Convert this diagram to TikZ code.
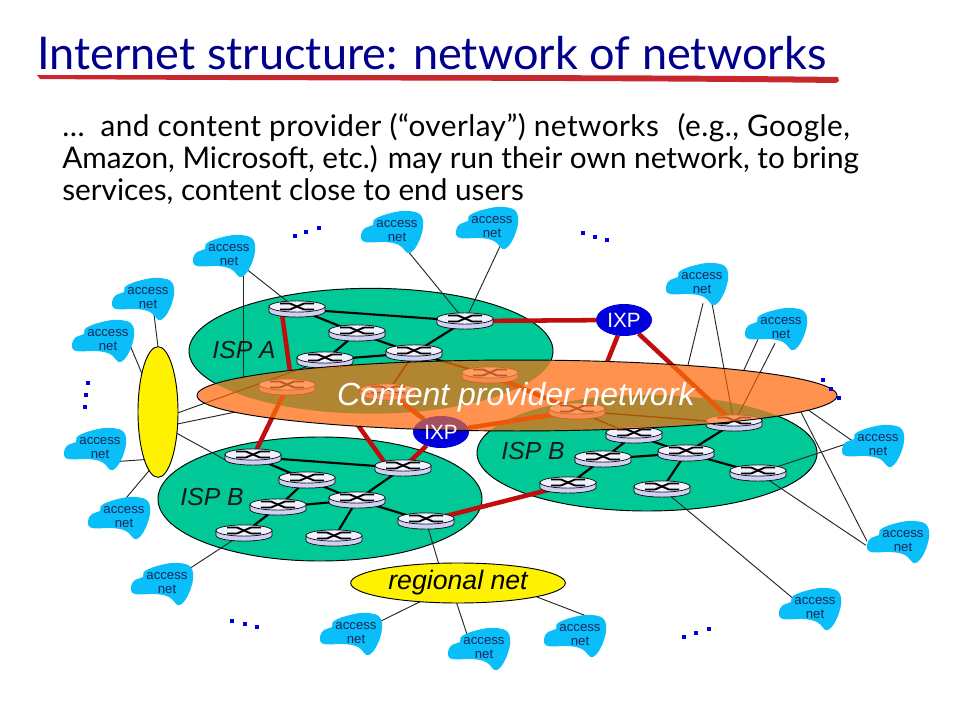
\documentclass[tikz,border=0pt]{standalone}
\usepackage{fontspec}
\setmainfont{Liberation Sans}
\newfontfamily\titlefont{Lato}
\usetikzlibrary{calc,shapes.geometric}
\definecolor{ispgreen}{RGB}{0,200,150}
\definecolor{ovorange}{RGB}{255,146,78}
\definecolor{ovbrown}{RGB}{176,134,50}
\definecolor{linkred}{RGB}{192,14,14}
\definecolor{cloudblue}{RGB}{10,190,250}
\definecolor{cloudtext}{RGB}{20,40,90}
\definecolor{titleblue}{RGB}{0,0,140}
\definecolor{ulred}{RGB}{200,40,45}
\definecolor{ixpblue}{RGB}{0,0,220}
\definecolor{ixpmix}{RGB}{165,80,95}
\definecolor{rtop}{RGB}{240,240,255}
\definecolor{rside}{RGB}{208,208,244}
\definecolor{rline}{RGB}{0,0,0}
\definecolor{rmark}{RGB}{0,0,0}
\pgfdeclarelayer{ell}
\pgfdeclarelayer{thin}
\pgfdeclarelayer{over}
\pgfdeclarelayer{toptext}
\pgfsetlayers{ell,thin,main,over,toptext}
\tikzset{
  x=0.75pt,y=-0.75pt,
  thinl/.style={draw=black!85,line width=0.7pt},
  linkl/.style={draw=black,line width=1.6pt},
  finel/.style={draw=black,line width=1pt},
  redl/.style={draw=linkred,line width=3.4pt},
  ispell/.style={ellipse,draw=black,line width=0.7pt,fill=ispgreen,inner sep=0pt,outer sep=0pt},
  yellowell/.style={ellipse,draw=black,line width=0.7pt,fill=yellow,inner sep=0pt,outer sep=0pt},
  ixpell/.style={ellipse,fill=ixpblue,inner sep=0pt,outer sep=0pt,minimum width=42pt,minimum height=24pt},
  rnode/.style={inner sep=0pt,outer sep=0pt,minimum size=0pt},
  cloudlabel/.style={text=cloudtext,align=center,inner sep=0pt,yshift=-1pt,font=\fontsize{9.9}{10.5}\selectfont},
  isplabel/.style={font=\fontsize{18.5}{20}\selectfont\itshape,inner sep=0pt,text=black!90},
  ixplabel/.style={font=\fontsize{15.5}{17}\selectfont,text=white,inner sep=0pt},
  dotm/.style={fill=ixpblue,draw=none}
}
\newcommand\rtr[1]{%
  \begin{scope}[shift={(#1)}]
    \filldraw[fill=rside,draw=rline,line width=0.5pt] (-28,-2.5) -- (-28,2.5) arc[start angle=180,end angle=360,x radius=21pt,y radius=4.2pt] -- (28,-2.5) -- cycle;
    \filldraw[fill=rtop,draw=rline,line width=0.5pt] (0,-2.5) ellipse[x radius=21pt,y radius=4.2pt];
    \draw[rmark,line width=1.4pt] (-17,-5.5) -- (-7,-5.5) -- (7,0.5) -- (17,0.5);
    \draw[rmark,line width=1.4pt] (-17,0.5) -- (-7,0.5) -- (7,-5.5) -- (17,-5.5);
  \end{scope}}
\newcommand\overlinks{%
  \draw[thinl] ($(yel.center)+(0,8)$) -- (R3);
  \draw[thinl] ($(a9)+(10,20)$) -- (H5);
  \draw[thinl] ($(a10)+(-6,15)$) -- (H5);
  \draw[linkl] (R4) -- (H2);
  \draw[linkl] (R4) -- (H3);
  \draw[finel] (H4) -- (G1);
  \draw[finel] (H4) -- (H5);
  \draw[redl] (H1) -- (B1);
  \draw[redl] (H2) -- (IXPa);
  \draw[redl] (IXPa) -- (H4);
  \draw[redl] (H3) -- (H4);
  \draw[redl] (IXPb) -- (H5);
}
\begin{document}
\begin{tikzpicture}
\useasboundingbox (0,0) rectangle (960,720);
\begin{pgfonlayer}{ell}
\fill[white] (0,0) rectangle (960,720);
\end{pgfonlayer}

% title and text
\node[anchor=base west,inner sep=0pt,text=titleblue,font=\titlefont\fontsize{33.8}{36}\selectfont] (title) at (37,70) {Internet structure: network of networks};
\fill[ulred] (37,75) .. controls (300,75.5) and (600,74) .. (838,77) -- (839,81) -- (836,83) .. controls (600,80) and (300,81) .. (40,79) -- cycle;
\node[anchor=north west,inner sep=0pt,align=left,text=black,font=\titlefont\fontsize{22.3}{24}\selectfont] (body) at (62,113) {{\addfontfeature{LetterSpace=1.6}…\hspace{6pt} and content provider (“overlay”) networks\hspace{8pt} (e.g., Google,}\\Amazon, Microsoft, etc.) may run their own network, to bring\\services, content close to end users};

% ISP clouds
\begin{pgfonlayer}{ell}
  \node[ispell,minimum width=273pt,minimum height=94pt] (ispA) at (371,351) {};
  \node[ispell,minimum width=243pt,minimum height=93pt] (ispB) at (320,499) {};
  \node[ispell,minimum width=255pt,minimum height=87pt] (ispC) at (647,453) {};
\end{pgfonlayer}
\node[isplabel] (lA) at (244,350) {ISP A};
\node[isplabel] (lB) at (212,497) {ISP B};
\node[isplabel] (lC) at (533,451) {ISP B};

% yellow and IXP
\node[yellowell,minimum width=30pt,minimum height=98pt] (yel) at (158,412) {};
\node[yellowell,minimum width=161pt,minimum height=30pt,font=\fontsize{20}{22}\selectfont\itshape] (reg) at (458,583) {regional net\hspace{6pt}};
\node[ixpell] (IXPa) at (441,432) {};
\node[ixpell] (IXPb) at (624,320) {};

% routers
\foreach \n/\x/\y in {R1/297/309,R2/357/333,R3/325/360,R4/414/353,R5/465/321,
  H1/287/387,H2/388/392,H3/490/375,H4/577/411,H5/734/423,
  B1/253/457,B2/307/480,B3/278/507,B4/357/500,B5/403/468,B6/244/533,B7/334/538,B8/426/521,
  G1/634/435,G2/603/459,G3/686/453,G4/758/473,G5/568/485,G6/662/489}{
  \node[rnode] (\n) at (\x,\y) {};
  \rtr{\n}
}

% access nets
\foreach \n/\x/\y in {a1/229/254,a2/148/297,a3/108/339,a4/100/447,a5/124/516,a6/167/582,
  a7/397/230,a8/492/226,a9/702/282,a10/781/327,a11/878/444,a12/903/540,a13/815/607,
  a14/356/632,a15/484/647,a16/580/634}{
  \fill[cloudblue,shift={(\x,\y)}] plot[smooth cycle,tension=.7] coordinates
    {(-22,-11) (-6,-17) (12,-19) (25,-13) (24,6) (13,23) (2,15) (-12,12) (-32,12) (-36,5) (-32,-2) (-24,-5)};
  \node[cloudlabel] (\n) at (\x,\y) {access\\net};
}

% connectors
\begin{pgfonlayer}{thin}
  \draw[thinl] (a1) -- (R1);
  \draw[thinl] ($(a1)+(14,20)$) -- ($(a1)+(14,130)$);
  \draw[thinl] ($(a2)+(4,0)$) -- (yel.north);
  \draw[thinl] ($(a3)+(20,0)$) -- (yel.center);
  \draw[thinl] ($(a4)+(20,13)$) -- ($(yel.center)+(-5,47)$);
  \draw[thinl] ($(a5)+(1,-18)$) -- ($(yel.center)+(-5,54)$);
  \draw[thinl] (a6) -- (B6);
  \draw[thinl] ($(yel.center)+(0,16)$) -- ($(H1)+(-37,22)$);
  \draw[thinl] ($(yel.center)+(0,11)$) -- ($(B1)+(-22,6)$);
  \draw[thinl] ($(a7)+(7,15)$) -- (R5);
  \draw[thinl] ($(a8)+(8,19)$) -- (R5);
  \draw[thinl] ($(a9)+(1,20)$) -- ($(a9)+(-16,90)$);
  \draw[thinl] ($(a10)+(-23,11)$) -- ($(a10)+(-40,48)$);
  \draw[thinl] ($(a11)+(-25,-4)$) -- ($(a11)+(-75,-39)$);
  \draw[thinl] ($(a11)+(-33,-1)$) -- (G4);
  \draw[thinl] ($(a12)+(-36,0)$) -- ($(a12)+(-104,-133)$);
  \draw[thinl] ($(a12)+(-37,4)$) -- (G4);
  \draw[thinl] ($(a13)+(-22,-10)$) -- (G6);
  \draw[thinl] (B8) -- ($(reg.center)+(-18,-15)$);
  \draw[thinl] (a14) -- (reg.center);
  \draw[thinl] ($(a15)+(-17,-14)$) -- ($(reg.center)+(-3,15)$);
  \draw[thinl] ($(a16)+(10,-18)$) -- ($(reg.center)+(79,14)$);

  % ISP A
  \draw[linkl] (R1) -- (R5);
  \draw[linkl] (R1) -- (R2);
  \draw[linkl] (R2) -- (R3);
  \draw[linkl] (R2) -- (R4);
  \draw[linkl] (R3) -- (R4);
  \draw[linkl] (R4) -- (R5);
  % ISP B left
  \draw[linkl] (B1) -- (B5);
  \draw[linkl] (B1) -- (B2);
  \draw[linkl] (B2) -- (B3);
  \draw[linkl] (B2) -- (B4);
  \draw[linkl] (B3) -- (B4);
  \draw[linkl] (B3) -- (B6);
  \draw[linkl] (B4) -- (B5);
  \draw[linkl] (B4) -- (B7);
  \draw[linkl] (B4) -- (B8);
  % ISP B right
  \draw[linkl] (G1) -- (G2);
  \draw[linkl] (G1) -- (G3);
  \draw[linkl] (G2) -- (G3);
  \draw[linkl] (G2) -- (G5);
  \draw[linkl] (G3) -- (H5);
  \draw[linkl] (G3) -- (G4);
  \draw[linkl] (G3) -- (G6);
  % red
  \draw[redl] ($(R1)+(-15,5)$) -- ($(R1)+(-6,70)$);
  \draw[redl] (R5) -- (IXPb);
  \draw[redl] (IXPb) -- ($(IXPb)+(-20,50)$);
  \draw[redl] ($(B5)+(-18,-5)$) -- ($(B5)+(-58,-61)$);
  \draw[redl] (B5) -- (IXPa);
  \draw[redl] (B8) -- (G5);
  \overlinks
\end{pgfonlayer}

% content provider overlay
\begin{pgfonlayer}{over}
  \fill[ovorange] (517,395.5) ellipse[x radius=240pt,y radius=26.6pt];
  \begin{scope}
    \clip (517,395.5) ellipse[x radius=240pt,y radius=26.6pt];
    \begin{scope}
      \clip (371,351) ellipse[x radius=136.5pt,y radius=47pt];
      \fill[ovbrown] (180,340) rectangle (860,440);
    \end{scope}
    \begin{scope}
      \clip (647,453) ellipse[x radius=127.5pt,y radius=43.5pt];
      \fill[ovbrown] (180,340) rectangle (860,440);
    \end{scope}
    \definecolor{rtop}{RGB}{255,156,98}
    \definecolor{rside}{RGB}{248,140,80}
    \definecolor{rline}{RGB}{200,100,30}
    \definecolor{rmark}{RGB}{185,90,35}
    \tikzset{
      thinl/.style={draw={rgb,255:red,175;green,85;blue,0},line width=0.7pt},
      linkl/.style={draw={rgb,255:red,185;green,85;blue,0},line width=1.4pt},
      finel/.style={draw={rgb,255:red,175;green,85;blue,0},line width=1pt},
      redl/.style={draw={rgb,255:red,236;green,88;blue,10},line width=3.4pt}
    }
    \overlinks
    \fill[ixpmix] (441,432) ellipse[x radius=21pt,y radius=12pt];
    \foreach \n in {R3,R4,H1,H2,H3,H4,H5,G1}{\rtr{\n}}
  \end{scope}
  \draw[black,line width=0.7pt] (517,395.5) ellipse[x radius=240pt,y radius=26.6pt];
\end{pgfonlayer}

\begin{pgfonlayer}{toptext}
  \node[inner sep=0pt,text=white,font=\fontsize{24}{26}\selectfont\itshape] (cpn) at (516,397) {Content provider network};
  \node[ixplabel] (tIXPa) at (441,432) {IXP};
  \node[ixplabel] (tIXPb) at (624,320) {IXP};
  \foreach \x/\y in {295/236,306/232,319/228,583/233,595/237,607/240,88/383,86/395,85/407,
     823/380,831/389,839/398,232/621,245/624,257/627,684/637,696/633,709/629}{
    \fill[dotm] (\x-1.8,\y-1.8) rectangle (\x+1.8,\y+1.8);
  }
\end{pgfonlayer}
\end{tikzpicture}
\end{document}
